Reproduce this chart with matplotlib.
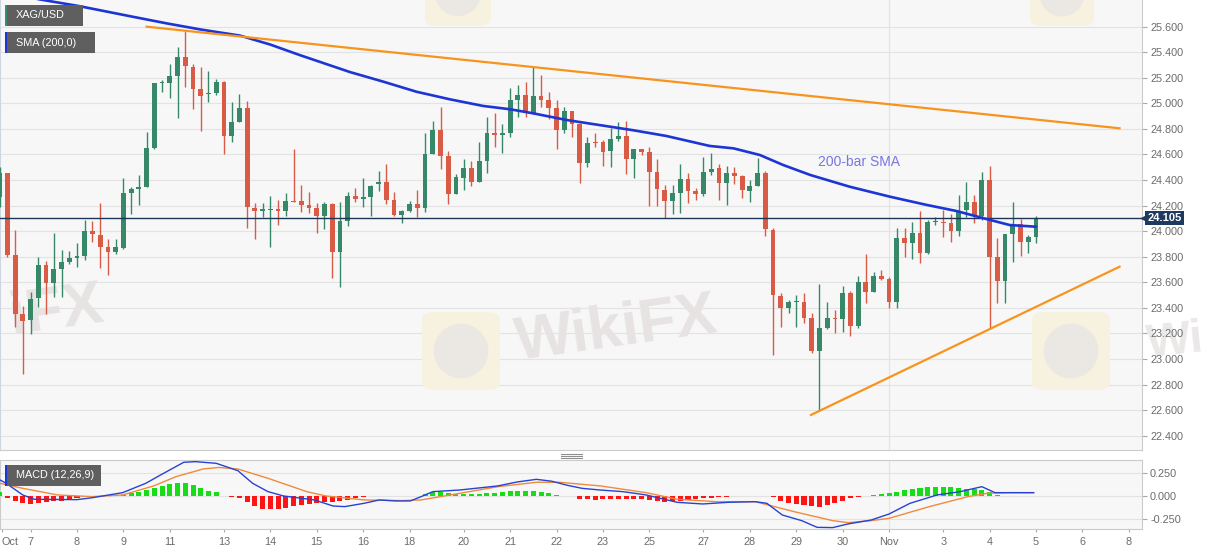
import numpy as np
import matplotlib
matplotlib.use('Agg')
import matplotlib.pyplot as plt
import matplotlib.transforms as mtransforms
from matplotlib.patches import Rectangle, FancyBboxPatch, Ellipse
from matplotlib.lines import Line2D

plt.rcParams['font.family'] = ['Liberation Sans', 'DejaVu Sans']

# ---------------- data (4-hour candles, index 0 = Oct 7 00:00) ----------------
bar_index = list(range(-4, 131))
open_ = [24.270, 24.453, 23.814, 23.349, 23.305, 23.474, 23.735, 23.597, 23.707, 23.762,
         23.788, 23.806, 24.001, 23.970, 23.874, 23.837, 23.866, 24.296, 24.328, 24.348,
         24.648, 25.157, 25.162, 25.214, 25.366, 25.287, 25.113, 25.070, 25.080, 25.170,
         24.747, 24.857, 24.967, 24.179, 24.161, 24.166, 24.171, 24.161, 24.239, 24.239,
         24.205, 24.179, 24.119, 24.213, 23.835, 24.080, 24.275, 24.252, 24.270, 24.370,
         24.385, 24.244, 24.127, 24.158, 24.210, 24.184, 24.604, 24.792, 24.591, 24.291,
         24.419, 24.497, 24.388, 24.550, 24.771, 24.755, 24.766, 25.027, 25.066, 24.922,
         25.058, 25.027, 24.961, 24.792, 24.941, 24.839, 24.536, 24.701, 24.696, 24.628,
         24.722, 24.748, 24.565, 24.643, 24.617, 24.461, 24.323, 24.239, 24.297, 24.406,
         24.317, 24.289, 24.465, 24.491, 24.374, 24.457, 24.431, 24.317, 24.353, 24.452,
         24.009, 23.492, 23.396, 23.448, 23.443, 23.318, 23.063, 23.240, 23.323, 23.313,
         23.519, 23.261, 23.600, 23.527, 23.649, 23.626, 23.449, 23.949, 23.910, 23.988,
         23.827, 24.069, 24.074, 24.061, 24.004, 24.166, 24.226, 24.119, 24.400, 23.795,
         23.613, 23.975, 24.056, 23.918, 23.957]
high_ = [24.505, 24.458, 24.009, 23.417, 23.527, 23.801, 23.769, 23.983, 23.853, 23.842,
         23.905, 24.088, 24.080, 24.218, 23.939, 23.936, 24.414, 24.348, 24.440, 24.779,
         25.162, 25.183, 25.306, 25.444, 25.566, 25.310, 25.287, 25.253, 25.190, 25.178,
         25.013, 25.071, 25.021, 24.218, 24.218, 24.275, 24.244, 24.296, 24.643, 24.361,
         24.309, 24.218, 24.226, 24.218, 24.226, 24.309, 24.335, 24.414, 24.360, 24.474,
         24.523, 24.309, 24.166, 24.236, 24.322, 24.766, 24.862, 24.975, 24.628, 24.448,
         24.563, 24.550, 24.696, 24.896, 24.922, 24.836, 25.118, 25.144, 25.165, 25.282,
         25.222, 25.092, 25.027, 24.975, 24.944, 24.844, 24.735, 24.771, 24.714, 24.805,
         24.852, 24.862, 24.646, 24.646, 24.662, 24.562, 24.362, 24.362, 24.523, 24.453,
         24.335, 24.583, 24.614, 24.523, 24.510, 24.504, 24.439, 24.400, 24.570, 24.470,
         24.022, 23.518, 23.461, 23.500, 23.519, 23.357, 23.584, 23.448, 23.383, 23.574,
         23.532, 23.652, 23.819, 23.683, 23.696, 23.639, 24.027, 24.027, 24.074, 24.160,
         24.087, 24.113, 24.166, 24.134, 24.283, 24.387, 24.283, 24.466, 24.510, 23.944,
         23.975, 24.231, 24.093, 23.970, 24.119]
low_ = [24.192, 23.795, 23.248, 22.883, 23.196, 23.409, 23.349, 23.488, 23.482, 23.743,
        23.717, 23.775, 23.913, 23.710, 23.657, 23.822, 23.858, 24.135, 24.205, 24.343,
        24.640, 25.087, 25.040, 24.883, 25.126, 24.956, 24.784, 25.013, 25.065, 24.601,
        24.700, 24.852, 24.022, 23.936, 24.114, 23.874, 24.049, 24.122, 24.226, 24.153,
        24.140, 23.983, 24.017, 23.631, 23.566, 24.043, 24.226, 24.187, 24.122, 24.312,
        24.213, 24.122, 24.062, 24.153, 24.114, 24.148, 24.604, 24.484, 24.210, 24.291,
        24.323, 24.354, 24.388, 24.458, 24.662, 24.609, 24.735, 24.896, 24.896, 24.915,
        24.969, 24.875, 24.643, 24.766, 24.740, 24.375, 24.500, 24.662, 24.513, 24.500,
        24.709, 24.445, 24.414, 24.596, 24.197, 24.200, 24.101, 24.135, 24.140, 24.218,
        24.244, 24.278, 24.439, 24.243, 24.204, 24.369, 24.257, 24.231, 24.353, 23.962,
        23.031, 23.252, 23.357, 23.253, 23.284, 23.044, 22.596, 23.235, 23.206, 23.209,
        23.180, 23.245, 23.435, 23.527, 23.618, 23.402, 23.396, 23.801, 23.782, 23.748,
        23.821, 24.048, 23.957, 23.913, 23.965, 24.108, 24.061, 24.088, 23.232, 23.441,
        23.441, 23.756, 23.806, 23.827, 23.905]
close_ = [24.453, 23.814, 23.349, 23.297, 23.469, 23.735, 23.597, 23.702, 23.762, 23.788,
          23.806, 24.001, 23.978, 23.874, 23.837, 23.874, 24.296, 24.328, 24.348, 24.648,
          25.157, 25.162, 25.214, 25.366, 25.295, 25.113, 25.060, 25.080, 25.170, 24.747,
          24.857, 24.967, 24.187, 24.161, 24.171, 24.171, 24.161, 24.239, 24.228, 24.205,
          24.184, 24.119, 24.213, 23.835, 24.080, 24.275, 24.252, 24.270, 24.356, 24.385,
          24.244, 24.127, 24.158, 24.210, 24.184, 24.604, 24.792, 24.591, 24.289, 24.422,
          24.497, 24.388, 24.550, 24.771, 24.755, 24.766, 25.027, 25.066, 24.935, 25.058,
          25.027, 24.961, 24.792, 24.941, 24.839, 24.531, 24.693, 24.690, 24.622, 24.722,
          24.748, 24.565, 24.646, 24.622, 24.461, 24.330, 24.239, 24.297, 24.406, 24.317,
          24.289, 24.461, 24.483, 24.374, 24.452, 24.431, 24.322, 24.353, 24.452, 24.014,
          23.500, 23.396, 23.448, 23.452, 23.323, 23.063, 23.240, 23.323, 23.313, 23.519,
          23.261, 23.600, 23.527, 23.649, 23.626, 23.449, 23.949, 23.910, 23.988, 23.827,
          24.069, 24.074, 24.061, 24.004, 24.158, 24.226, 24.119, 24.400, 23.795, 23.613,
          23.975, 24.048, 23.918, 23.957, 24.105]
last_price = 24.105

sma_x = [-4.0, 1.6, 6.2, 13.2, 17.6, 22.0, 27.1, 31.0, 34.8, 41.3,
         45.6, 49.9, 54.2, 58.5, 62.0, 65.0, 69.3, 73.6, 77.9, 82.2,
         87.8, 90.9, 94.3, 97.3, 100.8, 105.9, 111.1, 115.9, 119.7, 123.6,
         126.6, 130.0]
sma_y = [25.870, 25.809, 25.762, 25.678, 25.626, 25.578, 25.530, 25.460, 25.378, 25.245,
         25.170, 25.091, 25.032, 24.980, 24.954, 24.922, 24.870, 24.830, 24.790, 24.745,
         24.667, 24.648, 24.596, 24.518, 24.440, 24.348, 24.270, 24.205, 24.158, 24.095,
         24.048, 24.035]

resist_x = [15.0, 140.8]
resist_y = [25.600, 24.805]
support_x = [100.9, 140.8]
support_y = [22.562, 23.722]

macd_x = [-3.96, -3.2, -1.0, 0.5, 6.0, 7.9, 11.9, 14.9, 16.8, 19.8,
          21.3, 24.0, 26.8, 28.7, 30.7, 32.7, 36.7, 39.1, 40.6, 43.1,
          45.1, 47.1, 49.1, 50.5, 52.0, 55.5, 60.4, 62.9, 65.4, 67.4,
          69.4, 71.3, 73.6, 76.6, 79.6, 83.6, 86.9, 90.2, 93.7, 95.2,
          97.2, 99.7, 101.7, 103.7, 105.7, 108.7, 111.0, 113.7, 117.2, 120.2,
          123.0, 124.7, 126.8, 129.7]
macd_y = [0.174, 0.140, 0.010, -0.036, -0.040, -0.020, 0.036, 0.138, 0.228, 0.366,
          0.373, 0.355, 0.275, 0.138, 0.047, 0.000, -0.043, -0.109, -0.116, -0.080,
          -0.043, -0.054, -0.054, -0.007, 0.047, 0.065, 0.109, 0.152, 0.181, 0.160,
          0.116, 0.083, 0.065, 0.047, 0.011, -0.069, -0.087, -0.069, -0.062, -0.080,
          -0.207, -0.268, -0.341, -0.344, -0.304, -0.261, -0.196, -0.080, 0.011, 0.047,
          0.101, 0.036, 0.036, 0.036]
signal_x = [-3.96, -1.0, 3.5, 7.9, 11.9, 15.9, 18.8, 22.3, 24.3, 26.8,
            30.7, 35.7, 38.2, 43.1, 48.1, 50.5, 55.5, 60.4, 65.4, 68.4,
            71.3, 73.7, 79.6, 83.6, 88.7, 93.7, 98.7, 103.7, 105.7, 108.7,
            111.0, 116.2, 121.2, 123.7, 126.8, 129.7]
signal_y = [0.138, 0.083, 0.011, -0.007, 0.011, 0.109, 0.210, 0.293, 0.310, 0.293,
            0.192, 0.047, 0.000, -0.043, -0.050, -0.043, 0.029, 0.101, 0.149, 0.149,
            0.127, 0.109, 0.036, -0.036, -0.062, -0.062, -0.170, -0.268, -0.290, -0.268,
            -0.243, -0.116, -0.007, 0.029, 0.036, 0.036]
hist_vals = [0.040, -0.020, -0.050, -0.075, -0.090, -0.080, -0.070, -0.060, -0.050, -0.040,
             -0.025, 0.002, 0.005, 0.005, 0.005, 0.008, 0.015, 0.030, 0.040, 0.060,
             0.090, 0.110, 0.130, 0.140, 0.140, 0.120, 0.090, 0.050, 0.040, -0.003,
             -0.015, -0.020, -0.070, -0.110, -0.140, -0.145, -0.145, -0.130, -0.110, -0.100,
             -0.085, -0.075, -0.070, -0.065, -0.055, -0.040, -0.025, -0.015, -0.005, 0.005,
             0.005, 0.004, 0.001, 0.001, 0.005, 0.025, 0.045, 0.040, 0.030, 0.025,
             0.020, 0.020, 0.020, 0.030, 0.035, 0.040, 0.050, 0.055, 0.055, 0.050,
             0.045, 0.030, 0.010, 0.005, -0.002, -0.030, -0.035, -0.040, -0.035, -0.035,
             -0.030, -0.030, -0.030, -0.035, -0.040, -0.060, -0.065, -0.060, -0.050, -0.045,
             -0.035, -0.025, -0.020, -0.015, -0.010, -0.005, -0.003, -0.002, -0.002, -0.002,
             -0.010, -0.050, -0.080, -0.090, -0.100, -0.110, -0.115, -0.100, -0.080, -0.060,
             -0.020, -0.010, 0.005, 0.015, 0.020, 0.030, 0.040, 0.065, 0.075, 0.090,
             0.100, 0.100, 0.100, 0.095, 0.090, 0.080, 0.075, 0.070, 0.040, 0.010,
             0.005, 0.003, 0.001, -0.003, -0.005]

date_pos = [-3.7, 0, 6, 12, 18, 25, 31, 37, 43, 49, 56, 62, 68, 74, 80, 87, 93, 99, 105,
            111, 118, 124, 130, 136, 142]
date_labels = ['Oct', '7', '8', '9', '11', '13', '14', '15', '16', '18', '20', '21', '22',
               '23', '25', '27', '28', '29', '30', 'Nov', '3', '4', '5', '6', '8']
price_ticks = [22.4, 22.6, 22.8, 23.0, 23.2, 23.4, 23.6, 23.8, 24.0, 24.2, 24.4, 24.6,
               24.8, 25.0, 25.2, 25.4, 25.6]
macd_ticks = [-0.25, 0.0, 0.25]
macd_tick_labels = ['-0.250', '0.000', '0.250']

# ---------------- styling constants ----------------
W, H = 1207, 555
GREEN = '#378769'
RED = '#d95a45'
BG = '#f7f7f7'
GRID = '#e3e3e3'
LABEL = '#6b6b6b'
SPINE = '#cbcbcb'
WM = '#e7e3e3'

def fx(px):
    return px / W

def fy(py):
    return 1 - py / H

fig = plt.figure(figsize=(W / 100, H / 100), dpi=100)
fig.patch.set_facecolor('white')

ax = fig.add_axes([0, fy(450), fx(1142), 1 - fy(450)])
ax2 = fig.add_axes([0, fy(529), fx(1142), fy(460) - fy(529)])

x_lo = (0 - 30.6) / 7.734
x_hi = (1142 - 30.6) / 7.734
ax.set_xlim(x_lo, x_hi)
ax.set_ylim(22.2878, 25.8089)
ax2.set_xlim(x_lo, x_hi)
ax2.set_ylim(-0.359, 0.391)

for a in (ax, ax2):
    a.set_facecolor(BG)
    a.yaxis.tick_right()
    a.tick_params(axis='y', length=3.6, width=0.8, color='#a8a8a8', labelcolor=LABEL,
                  labelsize=7.8, pad=2.2)
    a.set_axisbelow(True)
    a.yaxis.grid(True, color=GRID, lw=0.8)
    a.axvline(111, color=GRID, lw=0.8, zorder=0.6)

ax.set_yticks(price_ticks)
ax.set_yticklabels(['%.3f' % v for v in price_ticks])
ax.tick_params(axis='x', bottom=False, labelbottom=False)
ax.spines['top'].set_visible(False)
ax.spines['right'].set_color(SPINE)
ax.spines['bottom'].set_color(SPINE)
ax.spines['left'].set_color('#cdd5e3')
for s in ax.spines.values():
    s.set_linewidth(0.8)

ax2.set_yticks(macd_ticks)
ax2.set_yticklabels(macd_tick_labels)
ax2.set_xticks(date_pos)
ax2.set_xticklabels(date_labels)
ax2.tick_params(axis='x', length=2.5, width=0.8, color='#a8a8a8', labelcolor=LABEL,
                labelsize=7.8, pad=3.5)
ax2.get_xticklabels()[0].set_horizontalalignment('left')
for s in ax2.spines.values():
    s.set_color(SPINE)
    s.set_linewidth(0.8)

# ---------------- watermarks ----------------
def wm_text(x, y, s='WikiFX'):
    ax.text(fx(x), fy(y), s, transform=fig.transFigure, fontsize=44,
            fontweight='bold', color=WM, rotation=8, ha='left', va='center',
            zorder=1)

def wm_logo(x0, y0, size):
    p = FancyBboxPatch((fx(x0), fy(y0 + size)), size / W, size / H,
                       boxstyle='round,pad=0,rounding_size=0.012',
                       transform=fig.transFigure, fc='#f7f1df', ec='none', zorder=1)
    ax.add_patch(p)
    e = Ellipse((fx(x0 + size / 2), fy(y0 + size / 2)), size * 0.7 / W, size * 0.7 / H,
                transform=fig.transFigure, fc='#ebe7e2', ec='none', zorder=1.1)
    ax.add_patch(e)

wm_logo(422, 312, 78)
wm_text(512, 330)
wm_logo(1032, 312, 78)
wm_logo(425, -40, 66)
wm_logo(1030, -38, 64)
wm_text(6, 312, 'iFX')
# watermark fragment beside the price labels
fig.text(fx(1144), fy(342), 'Wi', fontsize=34, fontweight='bold', color='#ebe8e8',
         rotation=6, ha='left', va='center', zorder=-1)

# ---------------- candles ----------------
xs = np.array(bar_index, dtype=float)
o = np.array(open_)
h = np.array(high_)
l = np.array(low_)
c = np.array(close_)
cols = np.where(c >= o, GREEN, RED)
ax.vlines(xs, l, h, colors=cols, lw=1.0, zorder=3)
body = np.maximum(np.abs(c - o), 0.008)
ax.bar(xs, body, bottom=np.minimum(o, c), width=0.62, color=cols, linewidth=0, zorder=4)

# last price line and tag
ax.axhline(last_price, color='#1d3557', lw=1.0, zorder=5)
blend = mtransforms.blended_transform_factory(ax.transAxes, ax.transData)
ax.text(1147.5 / 1142, last_price, '%.3f' % last_price, transform=blend, ha='left',
        va='center', color='white', fontsize=8, fontweight='bold', zorder=10, clip_on=False,
        bbox=dict(boxstyle='square,pad=0.2', fc='#1e3a60', ec='none'))
ax.plot([1143.6 / 1142], [last_price], marker='<', ms=4, color='#1e3a60',
        transform=blend, clip_on=False, zorder=10)

# SMA and trend lines
ax.plot(sma_x, sma_y, color='#1c35d4', lw=1.9, zorder=6, solid_capstyle='round')
ax.plot(resist_x, resist_y, color='#f7941d', lw=1.6, zorder=6)
ax.plot(support_x, support_y, color='#f7941d', lw=1.6, zorder=6)
ax.text(107.1, 24.541, '200-bar SMA', color='#7777e2', fontsize=10, ha='center',
        va='center', zorder=7)

# ---------------- MACD ----------------
hv = np.array(hist_vals)
ax2.bar(xs, hv, width=0.65, color=np.where(hv >= 0, '#16dd16', '#ff1414'),
        linewidth=0, zorder=3)
ax2.plot(signal_x, signal_y, color='#f08a3c', lw=1.0, zorder=4)
ax2.plot(macd_x, macd_y, color='#2742d4', lw=1.0, zorder=5)

# ---------------- legend boxes ----------------
def tag(label, x0, y0, x1, y1, strip):
    fig.patches.append(Rectangle((fx(x0), fy(y1)), (x1 - x0) / W, (y1 - y0) / H,
                                 transform=fig.transFigure, fc='#5f5f5f', ec='none',
                                 zorder=20))
    fig.patches.append(Rectangle((fx(x0), fy(y1)), 2 / W, (y1 - y0) / H,
                                 transform=fig.transFigure, fc=strip, ec='none', zorder=21))
    fig.text(fx(x0 + 11), fy((y0 + y1) / 2), label, color='white', fontsize=7.8,
             ha='left', va='center', zorder=22)

tag('XAG/USD', 5, 5, 83, 26, '#3a8c70')
tag('SMA (200,0)', 5, 32, 95, 53, '#1c35d4')
tag('MACD (12,26,9)', 5, 465, 101, 486, '#1c35d4')

# pane splitter handle
for yy in (453.5, 455.5, 457.5):
    fig.lines.append(Line2D([fx(561), fx(582)], [fy(yy), fy(yy)], transform=fig.transFigure,
                            color='#8f8f8f', lw=0.8))

fig.savefig('out.png', dpi=100)
